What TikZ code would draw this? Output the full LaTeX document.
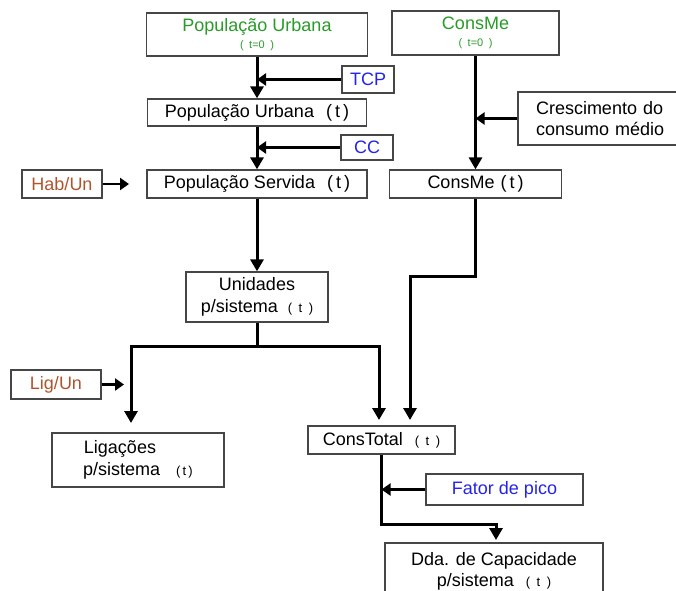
\documentclass[tikz,border=0pt]{standalone}
\usepackage{fontspec}
\setmainfont{Liberation Sans}
\usetikzlibrary{arrows.meta}
\definecolor{vgreen}{RGB}{40,155,40}
\definecolor{vblue}{RGB}{35,35,235}
\definecolor{vbrown}{RGB}{175,85,45}
\definecolor{vgray}{RGB}{70,70,70}
\newcommand{\tsm}[1]{{\fontsize{13}{15}\selectfont #1}}
\newcommand{\tzero}[1]{{\fontsize{11}{12}\selectfont #1}}

\begin{document}
\begin{tikzpicture}[x=1pt, y=-1pt, line width=3pt, >={Triangle[length=12pt,width=13pt]},
  var node/.style={draw=vgray, line width=1.3pt, inner sep=0pt, align=center, font=\fontsize{18}{22}\selectfont},
  in arrow/.style={->, line width=2.5pt, >={Triangle[length=9pt,width=12pt]}}]
\useasboundingbox (0,0) rectangle (676,590);
\begin{scope}[every node/.style={var node}]
\node (pu0) at (257,34.5) [minimum width=221pt, minimum height=43pt] {\textcolor{vgreen}{População Urbana}\\[-5pt]\textcolor{vgreen}{\tzero{(\enspace t=0\enspace)}}};
\node (cm0) at (475.5,33) [minimum width=167pt, minimum height=44pt] {\textcolor{vgreen}{ConsMe}\\[-5pt]\textcolor{vgreen}{\tzero{(\enspace t=0\enspace)}}};
\node (tcp) at (368,79.5) [minimum width=52pt, minimum height=27pt] {\textcolor{vblue}{TCP}};
\node (put) at (257,112.5) [minimum width=219pt, minimum height=27pt] {População Urbana\hspace{12pt}(\,t\,)};
\node (cresc) at (604,118.5) [text width=136pt, inner xsep=18pt, align=left, minimum height=53pt, font=\fontsize{18}{21}\selectfont] {Crescimento do\\consumo médio};
\node (cc) at (367,147.5) [minimum width=52pt, minimum height=25pt] {\textcolor{vblue}{CC}};
\node (habun) at (62,184) [minimum width=80pt, minimum height=28pt] {\textcolor{vbrown}{Hab/Un}};
\node (pserv) at (257,184) [minimum width=220pt, minimum height=28pt] {População Servida\hspace{12pt}(\,t\,)};
\node (cmt) at (475.5,184) [minimum width=172pt, minimum height=28pt] {ConsMe\hspace{6pt}(\,t\,)};
\node (unid) at (257,297) [minimum width=142pt, minimum height=50pt] {Unidades\\p/sistema\hspace{10pt}\tsm{(\enspace t\enspace)}};
\node (ligun) at (56,384.5) [minimum width=90pt, minimum height=29pt] {\textcolor{vbrown}{Lig/Un}};
\node (lig) at (138,460) [minimum width=172pt, minimum height=54pt] {Ligações\hspace*{36pt}\\p/sistema\hspace{16pt}\tsm{(\,t\,)}};
\node (ctot) at (381.5,440) [minimum width=147pt, minimum height=28pt] {ConsTotal\hspace{12pt}\tsm{(\enspace t\enspace)}};
\node (fator) at (504.5,489.5) [minimum width=157pt, minimum height=31pt] {\textcolor{vblue}{Fator de pico}};
\node (dda) at (494,571) [minimum width=218pt, minimum height=56pt, font=\fontsize{18}{21}\selectfont] {Dda. de Capacidade\\p/sistema\hspace{12pt}\tsm{(\enspace t\enspace)}};
\end{scope}

\coordinate (habtip) at (129,184);
\coordinate (liguntip) at (124,384.5);
\coordinate (split) at (257,346);
\coordinate (ligin) at (131,423);
\coordinate (ctotin1) at (379,420);
\coordinate (cmbend) at (475.5,276);
\coordinate (ctotin2) at (410,420);
\coordinate (ctbend) at (381.5,524);
\coordinate (ddain) at (496,540);

\draw [->] (pu0) -- (put);
\draw [->] (put) -- (pserv);
\draw [->] (pserv) -- (unid);
\draw [->] (cm0) -- (cmt);
\draw [in arrow] (tcp) -- (tcp -| put);
\draw [in arrow] (cc) -- (cc -| pserv);
\draw [in arrow] (cresc) -- (cresc -| cmt);
\draw [in arrow] (fator) -- (fator -| ctot);
\draw [in arrow] (habun) -- (habtip);
\draw [in arrow] (ligun) -- (liguntip);
\draw [->] (unid) -- (split) -| (ligin);
\draw [->] (split) -| (ctotin1);
\draw [->] (cmt) -- (cmbend) -| (ctotin2);
\draw [->] (ctot) -- (ctbend) -| (ddain);
\end{tikzpicture}
\end{document}
